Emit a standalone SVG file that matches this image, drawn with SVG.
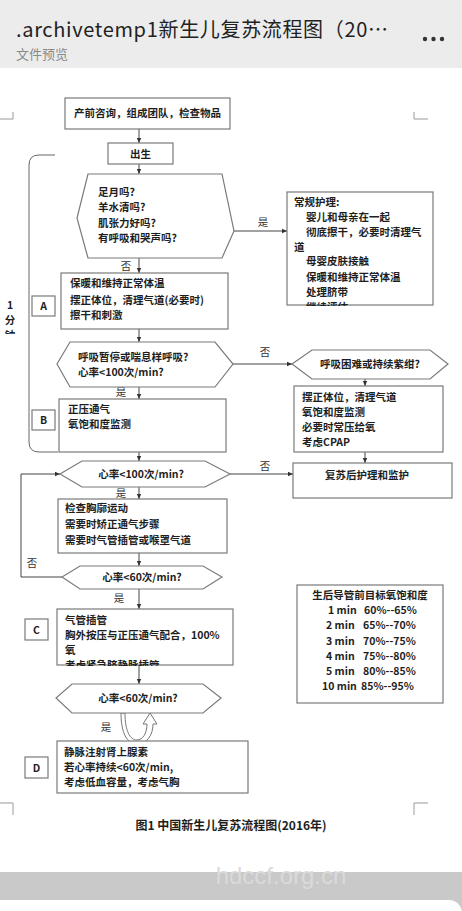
<svg xmlns="http://www.w3.org/2000/svg" width="462" height="911" viewBox="0 0 462 911">
<style>
.t{font-family:"Noto Sans CJK SC","Noto Sans",sans-serif;font-weight:bold;font-size:10.5px;fill:#1e1e1e}
.lbl{font-family:"Noto Sans CJK SC","Noto Sans",sans-serif;font-size:10.5px;fill:#333}
.box{fill:#fff;stroke:#7a7a7a;stroke-width:1.2}
.cn{fill:none;stroke:#444;stroke-width:1}
.mk{fill:none;stroke:#9a9a9a;stroke-width:1}
</style>
<defs>
<marker id="ah" markerWidth="6" markerHeight="6" refX="5" refY="3" orient="auto" markerUnits="userSpaceOnUse"><path d="M0,0.8 L5,3 L0,5.2 z" fill="#333"/></marker>
<clipPath id="clipR"><rect x="280" y="190" width="160" height="116"/></clipPath>
<clipPath id="clipC"><rect x="50" y="600" width="190" height="66"/></clipPath>
<clipPath id="clipM"><rect x="0" y="290" width="30" height="44"/></clipPath>
</defs>
<!-- header -->
<rect x="0" y="0" width="462" height="68" fill="#ececec"/>
<rect x="0" y="68" width="462" height="804" fill="#fff"/>
<text x="16" y="37" font-family="'Noto Sans CJK SC','Noto Sans',sans-serif" font-size="20" fill="#222" textLength="372" lengthAdjust="spacing">.archivetemp1新生儿复苏流程图（20…</text>
<text x="16" y="59" font-family="'Noto Sans CJK SC','Noto Sans',sans-serif" font-size="13" fill="#8a8a8a">文件预览</text>
<circle cx="425" cy="39" r="2.2" fill="#333"/><circle cx="433.5" cy="39" r="2.2" fill="#333"/><circle cx="442" cy="39" r="2.2" fill="#333"/>
<!-- crop marks -->
<path class="mk" d="M0,119 H13 V112"/>
<path class="mk" d="M428,119 H414 V112"/>
<path class="mk" d="M0,803 H13 V815"/>
<path class="mk" d="M428,803 H414 V815"/>
<!-- side bracket -->
<path d="M55,155 H39 Q29,155 29,165 V442 Q29,452 39,452 H58" fill="none" stroke="#666" stroke-width="1"/>
<g id="minute" class="t">
<text x="10" y="309" text-anchor="middle">1</text>
<text x="10" y="324" text-anchor="middle" clip-path="url(#clipM)">分</text>
<text x="10" y="339" text-anchor="middle" clip-path="url(#clipM)">钟</text>
</g>
<!-- connectors -->
<g id="connectors">
<path class="cn" d="M139,129 V143" marker-end="url(#ah)"/>
<path class="cn" d="M139,164 V174" marker-end="url(#ah)"/>
<path class="cn" d="M234,231 H287" marker-end="url(#ah)"/>
<path class="cn" d="M139,258 V273" marker-end="url(#ah)"/>
<path class="cn" d="M139,329 V342" marker-end="url(#ah)"/>
<path class="cn" d="M139,387 V399" marker-end="url(#ah)"/>
<path class="cn" d="M233,364 H292" marker-end="url(#ah)"/>
<path class="cn" d="M365,379 V386" marker-end="url(#ah)"/>
<path class="cn" d="M365,452 V463" marker-end="url(#ah)"/>
<path class="cn" d="M139,452 V461" marker-end="url(#ah)"/>
<path class="cn" d="M230,474 H293" marker-end="url(#ah)"/>
<path class="cn" d="M139,487 V499" marker-end="url(#ah)"/>
<path class="cn" d="M139,553 V566" marker-end="url(#ah)"/>
<path class="cn" d="M62,577 H21 V474 H60" marker-end="url(#ah)"/>
<path class="cn" d="M139,589 V609" marker-end="url(#ah)"/>
<path class="cn" d="M139,665 V684" marker-end="url(#ah)"/>
<path d="M121,713 C121,733 127,744 137,744 C147,744 153,735 153,724 L157,724 L150,713 L143,724 L147,724 C147,733 143,740 137,740 C130,740 125,731 125,713 Z" fill="#fff" stroke="#777" stroke-width="1"/>
<text class="lbl" x="263" y="226" text-anchor="middle">是</text>
<text class="lbl" x="126" y="270" text-anchor="middle">否</text>
<text class="lbl" x="121" y="396" text-anchor="middle">是</text>
<text class="lbl" x="265" y="356" text-anchor="middle">否</text>
<text class="lbl" x="265" y="470" text-anchor="middle">否</text>
<text class="lbl" x="121" y="497" text-anchor="middle">是</text>
<text class="lbl" x="32" y="567" text-anchor="middle">否</text>
<text class="lbl" x="119" y="602" text-anchor="middle">是</text>
<text class="lbl" x="106" y="731" text-anchor="middle">是</text>
</g>
<!-- nodes -->
<g id="n-prep"><rect class="box" x="65" y="98" width="165" height="31"/><text class="t" x="147.5" y="117" text-anchor="middle">产前咨询，组成团队，检查物品</text></g>
<g id="n-birth"><rect class="box" x="108" y="143" width="65" height="21"/><text class="t" x="140.5" y="157.5" text-anchor="middle">出生</text></g>
<g id="n-q1"><polygon class="box" points="88,174 222,174 234,231 222,258 88,258 77,218"/>
<text class="t" x="98" y="196">足月吗?</text><text class="t" x="98" y="211">羊水清吗?</text><text class="t" x="98" y="227">肌张力好吗?</text><text class="t" x="98" y="242">有呼吸和哭声吗?</text></g>
<g id="n-routine"><rect class="box" x="287" y="192" width="146" height="113"/>
<text class="t" x="294" y="206">常规护理:</text>
<text class="t" x="306" y="221">婴儿和母亲在一起</text>
<text class="t" x="306" y="236">彻底擦干，必要时清理气</text>
<text class="t" x="294" y="251">道</text>
<text class="t" x="306" y="265">母婴皮肤接触</text>
<text class="t" x="306" y="281">保暖和维持正常体温</text>
<text class="t" x="306" y="296">处理脐带</text>
<text class="t" x="306" y="311" clip-path="url(#clipR)">继续评估</text></g>
<g id="n-A"><rect class="box" x="61" y="273" width="167" height="56"/>
<text class="t" x="70" y="287">保暖和维持正常体温</text>
<text class="t" x="70" y="304">摆正体位，清理气道(必要时)</text>
<text class="t" x="70" y="319">擦干和刺激</text></g>
<g id="tag-A"><rect class="box" x="32" y="296" width="23" height="20"/><text class="t" x="43.5" y="310" text-anchor="middle">A</text></g>
<g id="n-q2"><polygon class="box" points="70,342 215,342 233,364 215,387 70,387 57,364"/>
<text class="t" x="78" y="361">呼吸暂停或喘息样呼吸?</text><text class="t" x="78" y="376">心率&lt;100次/min?</text></g>
<g id="n-q3"><polygon class="box" points="312,350 430,350 448,364 430,379 312,379 292,364"/>
<text class="t" x="370" y="368" text-anchor="middle">呼吸困难或持续紫绀?</text></g>
<g id="n-cpap"><rect class="box" x="294" y="386" width="149" height="66"/>
<text class="t" x="302" y="401">摆正体位，清理气道</text>
<text class="t" x="302" y="416">氧饱和度监测</text>
<text class="t" x="302" y="431">必要时常压给氧</text>
<text class="t" x="302" y="446">考虑CPAP</text></g>
<g id="n-post"><rect class="box" x="293" y="463" width="159" height="35"/><text class="t" x="367" y="479" text-anchor="middle">复苏后护理和监护</text></g>
<g id="n-B"><rect class="box" x="59" y="399" width="167" height="53"/>
<text class="t" x="68" y="413">正压通气</text><text class="t" x="68" y="428">氧饱和度监测</text></g>
<g id="tag-B"><rect class="box" x="32" y="410" width="23" height="20"/><text class="t" x="43.5" y="424" text-anchor="middle">B</text></g>
<g id="n-q4"><polygon class="box" points="82,461 205,461 230,474 205,487 82,487 60,474"/>
<text class="t" x="141" y="478" text-anchor="middle">心率&lt;100次/min?</text></g>
<g id="n-check"><rect class="box" x="58" y="499" width="169" height="54"/>
<text class="t" x="65" y="512">检查胸廓运动</text>
<text class="t" x="65" y="528">需要时矫正通气步骤</text>
<text class="t" x="65" y="544">需要时气管插管或喉罩气道</text></g>
<g id="n-q5"><polygon class="box" points="80,566 203,566 222,577 203,589 80,589 62,577"/>
<text class="t" x="142" y="581" text-anchor="middle">心率&lt;60次/min?</text></g>
<g id="n-C"><rect class="box" x="57" y="609" width="176" height="56"/>
<text class="t" x="65" y="624">气管插管</text>
<text class="t" x="65" y="639">胸外按压与正压通气配合，100%</text>
<text class="t" x="65" y="654">氧</text>
<text class="t" x="65" y="669" clip-path="url(#clipC)">考虑紧急脐静脉插管</text></g>
<g id="tag-C"><rect class="box" x="25" y="619" width="23" height="21"/><text class="t" x="36.5" y="633.5" text-anchor="middle">C</text></g>
<g id="n-q6"><polygon class="box" points="72,684 203,684 221,698 203,713 72,713 56,698"/>
<text class="t" x="138" y="702" text-anchor="middle">心率&lt;60次/min?</text></g>
<g id="n-D"><rect class="box" x="57" y="741" width="191" height="52"/>
<text class="t" x="64" y="756">静脉注射肾上腺素</text>
<text class="t" x="64" y="771">若心率持续&lt;60次/min,</text>
<text class="t" x="64" y="786">考虑低血容量，考虑气胸</text></g>
<g id="tag-D"><rect class="box" x="25" y="757" width="23" height="21"/><text class="t" x="36.5" y="771.5" text-anchor="middle">D</text></g>
<g id="n-table"><rect class="box" x="297" y="585" width="146" height="118"/>
<text class="t" x="370" y="599" text-anchor="middle">生后导管前目标氧饱和度</text>
<text class="t" x="328" y="614">1 min</text><text class="t" x="364" y="614">60%--65%</text>
<text class="t" x="326" y="629">2 min</text><text class="t" x="363" y="629">65%--70%</text>
<text class="t" x="326" y="645">3 min</text><text class="t" x="363" y="645">70%--75%</text>
<text class="t" x="326" y="660">4 min</text><text class="t" x="363" y="660">75%--80%</text>
<text class="t" x="326" y="675">5 min</text><text class="t" x="363" y="675">80%--85%</text>
<text class="t" x="322" y="690">10 min</text><text class="t" x="361" y="690">85%--95%</text></g>
<!-- caption -->
<text x="231" y="830" text-anchor="middle" font-family="'Noto Sans CJK SC','Noto Sans',sans-serif" font-weight="bold" font-size="12" fill="#1e1e1e">图1 中国新生儿复苏流程图(2016年)</text>
<!-- footer -->
<rect x="0" y="872" width="462" height="39" fill="#c9c9c9"/>
<text x="281" y="884" text-anchor="middle" font-family="'Liberation Sans',Arial,sans-serif" font-size="24" fill="#dadada">hdccf.org.cn</text>
<rect x="-20" y="900" width="482" height="40" rx="13" fill="#fff"/>
</svg>
